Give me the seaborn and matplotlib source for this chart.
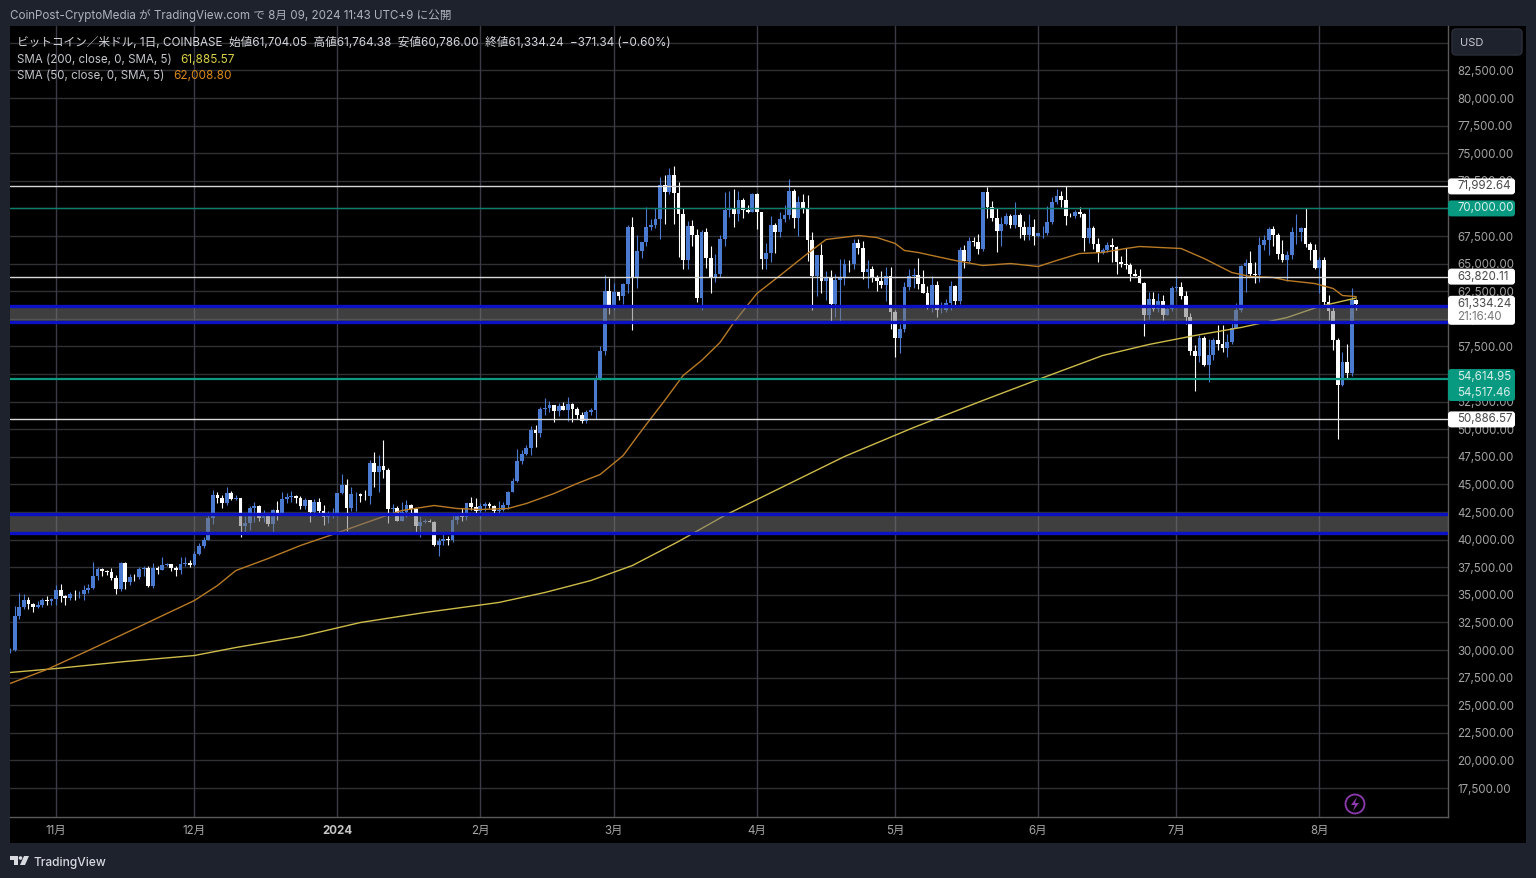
import numpy as np
import pandas as pd
import matplotlib
matplotlib.use("Agg")
import matplotlib.pyplot as plt
import seaborn as sns
from matplotlib.patches import FancyBboxPatch, Circle, Polygon, Rectangle
from matplotlib.transforms import IdentityTransform, ScaledTranslation

# daily candles, one line per month (oct 22 2023 .. aug 9 2024)
opens = [
    29990,30000,33060,33900,34500,34150,33900,34080,34520,34480,
    34650,35420,34930,34730,35080,35030,35040,35420,35640,36690,37310,37130,37060,36490,35550,37880,36170,36600,36570,37360,37450,35820,37420,37290,37720,37790,37450,37240,37820,37850,
    37720,38690,39460,39970,41980,44080,43770,43290,44180,43720,43790,41250,41490,42890,43020,41940,42260,41370,42660,42270,43660,43860,43990,43730,43020,43590,42520,43440,42580,42070,42140,
    42280,44180,44950,42850,44150,44160,43970,43930,46970,46120,46650,46340,42780,42850,41730,42510,43140,42740,41270,41620,41680,41580,39530,39880,40100,39930,41800,42120,42030,43300,42950,
    42570,43080,43190,43000,42590,42700,43090,44340,45290,47130,47770,48300,49950,49700,51800,51940,52150,51660,52120,51780,52260,51850,51300,50740,51570,51730,54480,57050,62500,
    61170,62430,62030,63130,68300,63800,66100,66930,68300,68500,69020,72100,71470,73070,71400,69450,65300,68390,67600,61900,67850,65500,63800,64030,67230,69900,69990,69450,70770,69900,69630,
    71300,69650,65450,65980,68500,67840,69000,69360,71620,69140,70620,70000,67100,63900,65750,63400,63800,61300,63480,63800,64960,64950,66830,66400,64280,64480,63750,63420,63100,63850,
    60650,58300,59120,62880,63900,64000,63160,62320,61190,63070,60800,60800,61470,62950,61570,66250,65250,67050,66930,66280,71450,70130,69150,67950,68550,69280,68500,69400,68350,67600,68350,
    67500,67750,67750,68800,70560,71100,70800,69350,69300,69650,69500,67320,68250,66750,66000,66200,66650,66500,65150,64950,64850,64100,63900,63200,60300,61800,60850,61600,60300,60900,
    62750,62900,62030,60200,57050,56650,58250,55850,56700,58050,57700,57350,57900,59200,60800,64800,65050,64100,63950,66650,67150,68150,67550,65900,65350,65750,67900,67900,68250,66800,66200,
    64620,65350,61500,60700,58100,53990,56050,55100,61704.05,
]
highs = [
    30200,34000,35200,35100,34800,34250,34450,34750,34850,34720,
    35900,35980,34950,35260,35400,35300,35900,35980,37970,37530,37400,37230,37420,36760,37980,37950,36850,36850,37520,37650,37650,37880,37650,38420,37890,37830,37600,38390,38430,38170,
    38990,39720,40220,42420,44490,44300,44050,44720,44370,44050,43800,42100,43000,43420,43090,42700,42430,42750,43500,44280,44230,44400,44020,43950,43780,43600,43680,43800,43130,42600,42900,
    44180,45900,45500,44770,44330,44230,44490,47250,47900,47700,49000,46500,43250,43080,43400,43580,43200,42880,42150,41850,41880,41680,40150,40550,40350,42220,42200,42840,43310,43880,43740,
    43290,43420,43380,43120,43530,43400,44380,45600,48170,48150,48580,50330,50370,52050,52820,52570,52200,52370,52500,52950,52370,52000,51550,51700,51950,54900,57500,64000,63680,
    63200,62420,63200,68500,69200,67600,67000,70100,69000,70000,72800,73000,73650,73800,72400,70000,68900,68950,68100,68000,68200,66600,65900,67600,71500,71600,71750,71550,70900,70300,71350,
    71350,69670,66900,69300,68700,69650,70300,72700,71750,71150,71300,71200,67900,65800,66800,64350,64450,64100,65450,65400,65300,67250,67200,67050,65300,64800,64000,64300,64700,64700,
    60800,59500,63300,64500,64600,65500,64400,62980,63850,63450,61500,61800,63450,63100,66480,66700,67400,67450,67700,71500,71950,70650,70050,69200,69550,69500,70600,69580,68900,69500,69000,
    67800,68400,70200,71050,71750,71600,72000,69550,69850,70150,69550,70000,68450,67300,66400,66950,67300,66600,65700,66450,65050,64500,64500,63350,62400,62450,62300,62200,61150,63000,
    63850,63300,62500,60500,57600,58500,58450,58200,58300,59450,59450,58650,59850,61400,64900,65400,66100,65150,67400,67600,68350,68450,67800,67100,66150,68300,69450,68300,70000,66950,66800,
    65600,65600,62200,61100,58300,57000,57700,62750,61764.38,
]
lows = [
    29700,29900,32800,33700,33700,33400,33850,33900,34100,34080,
    34100,34350,34100,34570,34530,34730,34520,35120,35550,36330,36730,36780,36350,35100,35360,35520,35880,36220,36400,36730,35750,35630,36870,37250,37600,37150,36730,36880,37600,37490,
    37600,38650,39280,39970,41420,43300,42820,43090,43580,43560,40200,40680,40900,41550,41670,41620,41250,40550,41800,42190,43350,43400,43300,42800,42750,41630,42100,42300,41300,41520,41970,
    42180,44150,40750,42630,42620,43400,43570,43200,44800,44300,45600,41500,42450,41720,41730,42050,42200,40600,40250,41500,41550,39450,38500,39480,39540,39800,41400,41650,41800,42680,42270,
    41880,42600,42880,42270,42260,42570,42780,44330,45250,46850,47640,47700,48350,49260,51300,51600,50630,51170,51700,50700,50650,50950,50550,50580,51280,50900,54450,56700,60400,
    60780,61700,61350,62350,59000,62800,65500,66600,68000,68230,67200,68600,71340,68600,65600,64550,64500,66600,61500,60780,64600,62300,63300,63800,66600,69200,68350,68850,69100,69550,69630,
    68100,64500,64500,65100,66000,67450,68800,69050,68200,67500,69550,65200,60800,62100,62300,61700,59700,60200,59600,63100,64200,64500,65850,63600,62800,63300,62500,62800,61600,59100,
    56550,56900,58800,62600,62800,62700,62300,60900,60650,60200,60500,60630,60800,61150,61330,64600,65100,66600,65850,66100,69150,68900,66050,66600,68500,68200,68250,67300,67100,67150,66650,
    67400,67300,67600,68600,70400,70150,68500,69200,69150,69200,66100,66900,66300,65100,65900,66050,65100,64050,64700,64500,63400,63900,63200,58400,60000,60700,60600,59900,60300,60700,
    62500,61800,59500,56750,53500,56050,55750,54250,56300,57200,56950,56550,57750,59200,60650,62400,63900,63250,63300,66200,65750,66600,65400,65150,63400,65400,66750,67050,66500,65300,64500,
    62300,61200,59900,57200,49150,53950,54550,54800,60786.00,
]
closes = [
    30000,33060,33900,34500,34150,33900,34080,34520,34480,34650,
    35420,34930,34730,35080,35030,35040,35420,35640,36690,37310,37130,37060,36490,35550,37880,36170,36600,36570,37360,37450,35820,37420,37290,37720,37790,37450,37240,37820,37850,37720,
    38690,39460,39970,41980,44080,43770,43290,44180,43720,43790,41250,41490,42890,43020,41940,42260,41370,42660,42270,43660,43860,43990,43730,43020,43590,42520,43440,42580,42070,42140,42280,
    44180,44950,42850,44150,44160,43970,43930,46970,46120,46650,46340,42780,42850,41730,42510,43140,42740,41270,41620,41680,41580,39530,39880,40100,39930,41800,42120,42030,43300,42950,42570,
    43080,43190,43000,42590,42700,43090,44340,45290,47130,47770,48300,49950,49700,51800,51940,52150,51660,52120,51780,52260,51850,51300,50740,51570,51730,54480,57050,62500,61170,
    62430,62030,63130,68300,63800,66100,66930,68300,68500,69020,72100,71470,73070,71400,69450,65300,68390,67600,61900,67850,65500,63800,64030,67230,69900,69990,69450,70770,69900,69630,71300,
    69650,65450,65980,68500,67840,69000,69360,71620,69140,70620,70000,67100,63900,65750,63400,63800,61300,63480,63800,64960,64950,66830,66400,64280,64480,63750,63420,63100,63850,60650,
    58300,59120,62880,63900,64000,63160,62320,61190,63070,60800,60800,61470,62950,61570,66250,65250,67050,66930,66280,71450,70130,69150,67950,68550,69280,68500,69400,68350,67600,68350,67500,
    67750,67750,68800,70560,71100,70800,69350,69300,69650,69500,67320,68250,66750,66000,66200,66650,66500,65150,64950,64850,64100,63900,63200,60300,61800,60850,61600,60300,60900,62750,
    62900,62030,60200,57050,56650,58250,55850,56700,58050,57700,57350,57900,59200,60800,64800,65050,64100,63950,66650,67150,68150,67550,65900,65350,65750,67900,67900,68250,66800,66200,64620,
    65350,61500,60700,58100,53990,56050,55100,61700,61334.24,
]

sma50_dates = ["2023-10-22","2023-10-30","2023-11-08","2023-11-20","2023-12-01","2023-12-06","2023-12-10","2023-12-17","2023-12-24","2023-12-31",
    "2024-01-11","2024-01-15","2024-01-22","2024-01-27","2024-02-01","2024-02-07","2024-02-11","2024-02-17","2024-02-22","2024-02-27",
    "2024-03-03","2024-03-07","2024-03-12","2024-03-16","2024-03-20","2024-03-24","2024-03-27","2024-04-01","2024-04-06","2024-04-12",
    "2024-04-16","2024-04-23","2024-04-27","2024-05-01","2024-05-03","2024-05-06","2024-05-14","2024-05-20","2024-05-26","2024-06-01",
    "2024-06-05","2024-06-10","2024-06-15","2024-06-20","2024-06-23","2024-07-02","2024-07-07","2024-07-13","2024-07-17","2024-07-22",
    "2024-07-25","2024-07-31","2024-08-04","2024-08-06","2024-08-09"]
sma50 = [26966,28234,29955,32310,34484,35842,37201,38288,39466,40462,
    42092,42636,43089,42817,42727,42817,43270,44176,45082,45897,
    47618,49882,52600,54864,56223,57853,59665,62292,63922,65915,
    67183,67545,67364,66821,66187,66006,65281,64828,65009,64737,
    65281,65915,66006,66368,66549,66368,65462,64194,63832,63741,
    63469,63197,62745,62110,62008.80]

sma200_dates = ["2023-10-22","2023-11-01","2023-11-16","2023-12-01","2023-12-10","2023-12-24","2024-01-06","2024-01-20","2024-02-05","2024-02-15",
    "2024-02-25","2024-03-05","2024-03-15","2024-03-25","2024-04-05","2024-04-20","2024-05-05","2024-05-20","2024-06-01","2024-06-15",
    "2024-06-25","2024-07-05","2024-07-15","2024-07-25","2024-08-01","2024-08-09"]
sma200 = [27962,28324,28958,29502,30227,31223,32491,33397,34303,35208,
    36295,37654,39828,42183,44448,47527,50154,52600,54502,56676,
    57672,58487,59212,60118,61115,61885.57]

white_levels = [71992.64, 63820.11, 50886.57]
green_levels = [70000.00, 54560.00]
band_levels = [(59669, 61115), (40553, 42274)]
price_ticks = list(range(17500, 87500, 2500))
month_ticks = ["2023-11-01","2023-12-01","2024-01-01","2024-02-01","2024-03-01","2024-04-01","2024-05-01","2024-06-01","2024-07-01","2024-08-01"]
month_labels = ["11月","12月","2024","2月","3月","4月","5月","6月","7月","8月"]

W, H = 1536, 879
PANEL = "#1e222d"
BLUE = "#4a7bd0"
FONTS = ["Inter", "Noto Sans CJK JP", "DejaVu Sans"]

sns.set_theme(style="dark")
plt.rcParams["font.family"] = FONTS

fig = plt.figure(figsize=(W / 100, H / 100), dpi=100, facecolor=PANEL)
ax = fig.add_axes([10 / W, 1 - 817.5 / H, 1438 / W, 790.5 / H], facecolor="black")

# black strip behind price and time axes
fig.add_artist(Rectangle((10, H - 844), 1516, 817, transform=IdentityTransform(),
                         facecolor="black", edgecolor="none", zorder=-5))

days = pd.date_range("2023-10-22", periods=len(closes), freq="D")
o = np.array(opens)
c = np.array(closes)
colors = [BLUE if a >= b else "white" for a, b in zip(c, o)]

ax.grid(False)
for p in price_ticks:
    ax.axhline(p, color="#2f2f34", lw=1.0, zorder=1)
for m in month_ticks:
    ax.axvline(pd.Timestamp(m), color="#3b3b47", lw=1.0, zorder=1)

ax.vlines(days, lows, highs, colors=colors, lw=0.8, zorder=3)
ax.bar(days, np.abs(c - o), bottom=np.minimum(o, c), width=0.82, color=colors, linewidth=0, zorder=3)

sns.lineplot(x=pd.to_datetime(sma200_dates), y=sma200, ax=ax, color="#cdbb4a", lw=1.0, zorder=4)
sns.lineplot(x=pd.to_datetime(sma50_dates), y=sma50, ax=ax, color="#b87a25", lw=1.0, zorder=4)

for lo, hi in band_levels:
    ax.axhspan(lo, hi, facecolor="#747474", alpha=0.55, edgecolor="none", zorder=5)
    ax.axhline(lo, color="#0a12c4", lw=2.4, zorder=6)
    ax.axhline(hi, color="#0a12c4", lw=2.4, zorder=6)
for v in white_levels:
    ax.axhline(v, color="#d8d8d8", lw=1.0, zorder=6)
ax.axhline(green_levels[0], color="#0b7f6c", lw=1.0, zorder=6)
ax.axhline(green_levels[1], color="#0c9a80", lw=1.6, zorder=6)

ax.set_xlim(pd.Timestamp("2023-10-22"), pd.Timestamp("2023-10-22") + pd.Timedelta(days=311.9))
ax.set_ylim(14919, 86522)
ax.set_xlabel("")
ax.set_ylabel("")

ax.yaxis.tick_right()
ax.set_yticks(price_ticks)
ax.set_yticklabels([f"{p:,.2f}" for p in price_ticks], fontsize=8.3, color="#a3a3a3")
ax.set_xticks(pd.to_datetime(month_ticks))
ax.set_xticklabels(month_labels, fontsize=8.3, color="#a8a8a8")
for lab in ax.get_xticklabels():
    if lab.get_text() == "2024":
        lab.set_fontweight("bold")
        lab.set_color("#c8c8c8")
ax.tick_params(axis="y", length=0, pad=6.5)
ax.tick_params(axis="x", length=0, pad=5.4)
# price labels sit a pixel above their grid line
lift = ScaledTranslation(0, 1.0 / 100, fig.dpi_scale_trans)
for lab in ax.get_yticklabels():
    lab.set_transform(lab.get_transform() + lift)
for s in ["top", "left"]:
    ax.spines[s].set_visible(False)
for s in ["right", "bottom"]:
    ax.spines[s].set_color("#5a5a5a")
    ax.spines[s].set_linewidth(1.0)


def put(x, y, s, color, size=8.6, **kw):
    fig.text(x / W, 1 - y / H, s, color=color, fontsize=size, va="center", ha="left", **kw)


def tag(price, height, face, lines):
    y = ax.transData.transform((0, price))[1]
    fig.add_artist(FancyBboxPatch((1448, y - height / 2), 67, height,
                                  boxstyle="round,pad=0,rounding_size=3", transform=IdentityTransform(),
                                  facecolor=face, edgecolor="none", zorder=8))
    for off, txt, col in lines:
        fig.text(1457 / W, (y + off) / H, txt, color=col, fontsize=8.3, va="center", zorder=9)


# header and legend
put(10, 15.5, "CoinPost-CryptoMedia が TradingView.com で 8月 09, 2024 11:43 UTC+9 に公開", "#aeb2bb", size=8.35)
put(17, 43, "ビットコイン／米ドル, 1日, COINBASE  始値61,704.05  高値61,764.38  安値60,786.00  終値61,334.24  −371.34 (−0.60%)", "#d6d8de", size=8.42)
put(17, 60, "SMA (200, close, 0, SMA, 5)", "#c4c6cc", size=8.3)
put(180, 60, "61,885.57", "#d9d04a", size=8.5)
put(17, 76, "SMA (50, close, 0, SMA, 5)", "#c4c6cc", size=8.3)
put(173, 76, "62,008.80", "#d98a1a", size=8.5)

# price tags on the scale
GREEN = "#089981"
DARK = "#4a4a4a"
tag(71992.64, 16, "white", [(1, "71,992.64", DARK)])
tag(70000.00, 16, GREEN, [(1, "70,000.00", "#d7efe9")])
tag(63820.11, 16, "white", [(1, "63,820.11", DARK)])
tag(60770.00, 29, "white", [(7, "61,334.24", DARK), (-6, "21:16:40", "#777777")])
tag(54000.00, 32, GREEN, [(9, "54,614.95", "#d7efe9"), (-7, "54,517.46", "#d7efe9")])
tag(50886.57, 16, "white", [(1, "50,886.57", DARK)])

# currency button
fig.add_artist(FancyBboxPatch((1452, H - 56), 70, 26, boxstyle="round,pad=0,rounding_size=4",
                              transform=IdentityTransform(), facecolor=PANEL, edgecolor="#2a2e39", zorder=8))
fig.text(1460 / W, 1 - 43 / H, "USD", color="#c8cad0", fontsize=8.0, va="center", zorder=9)

# replay bolt
fig.add_artist(Circle((1355, H - 805), 9.5, transform=IdentityTransform(), facecolor="none",
                      edgecolor="#8e3bb0", lw=1.3, zorder=8))
fig.add_artist(Polygon([(1357, H - 798), (1351, H - 806), (1355, H - 806), (1353, H - 812), (1359, H - 804), (1355, H - 804)],
                       closed=True, transform=IdentityTransform(), facecolor="#8e3bb0", edgecolor="none", zorder=8))

# footer logo
logo = "#d8dae0"
for pts in ([(10, 857), (18, 857), (18, 866), (14, 866), (14, 861), (10, 861)],
            [(24, 857), (29, 857), (25, 866), (20, 866)]):
    fig.add_artist(Polygon([(x, H - y) for x, y in pts], closed=True, transform=IdentityTransform(),
                           facecolor=logo, edgecolor="none"))
fig.add_artist(Circle((20.5, H - 859), 1.8, transform=IdentityTransform(), facecolor=logo, edgecolor="none"))
put(33, 863, "TradingView", logo, size=8.6, fontweight="medium")

fig.savefig("out.png", dpi=100, facecolor=fig.get_facecolor())
